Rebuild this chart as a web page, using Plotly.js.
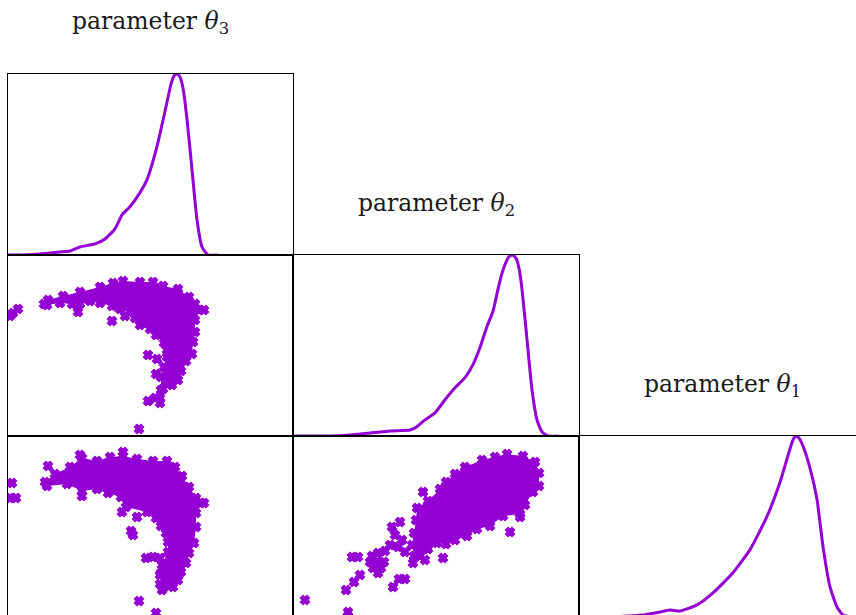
<!DOCTYPE html>
<html>
<head>
<meta charset="utf-8">
<script src="https://cdn.plot.ly/plotly-3.0.1.min.js"></script>
<style>html,body{margin:0;padding:0;background:#fff;}#chart{width:856px;height:615px;}</style>
</head>
<body>
<div id="chart"></div>
<script>
// ---- Data ----
// Marginal density of theta3
const kde3_x = [0, 0.12, 0.32, 0.52, 0.62, 0.72, 0.87, 0.97, 1.07, 1.14, 1.22, 1.32, 1.39, 1.49, 1.59, 1.63, 1.66, 1.69, 1.72, 1.75, 1.79, 1.84, 1.89, 1.94, 2.00, 2.10];
const kde3_y = [0, 0, 0.01, 0.03, 0.04, 0.08, 0.11, 0.16, 0.26, 0.40, 0.48, 0.62, 0.75, 1.08, 1.52, 1.70, 1.78, 1.80, 1.77, 1.66, 1.35, 0.85, 0.35, 0.08, 0, 0];
// Marginal density of theta2
const kde2_x = [0, 0.37, 0.57, 0.77, 0.97, 1.17, 1.22, 1.32, 1.42, 1.52, 1.62, 1.72, 1.80, 1.87, 1.94, 2.00, 2.05, 2.09, 2.13, 2.165, 2.20, 2.235, 2.265, 2.29, 2.34, 2.39, 2.44, 2.49, 2.55, 2.65];
const kde2_y = [0, 0, 0.01, 0.03, 0.05, 0.06, 0.08, 0.16, 0.23, 0.36, 0.48, 0.58, 0.71, 0.88, 1.09, 1.24, 1.46, 1.62, 1.73, 1.79, 1.80, 1.76, 1.64, 1.46, 0.96, 0.46, 0.16, 0.04, 0, 0];
// Marginal density of theta1
const kde1_x = [0.21, 0.41, 0.64, 0.81, 0.91, 1.01, 1.18, 1.34, 1.54, 1.71, 1.88, 2.01, 2.10, 2.135, 2.165, 2.20, 2.24, 2.31, 2.38, 2.44, 2.51, 2.58, 2.64, 2.71];
const kde1_y = [0, 0.005, 0.02, 0.05, 0.07, 0.06, 0.12, 0.24, 0.44, 0.67, 1.00, 1.34, 1.64, 1.75, 1.80, 1.78, 1.70, 1.48, 1.17, 0.70, 0.30, 0.10, 0.02, 0];

// theta3 vs theta2: dense core outline samples and isolated samples
const core32_t3 = [0.36, 0.40, 0.55, 0.72, 0.92, 1.05, 1.15, 1.32, 1.45, 1.55, 1.70, 1.81, 1.87, 1.91, 1.87, 1.87, 1.85, 1.84, 1.78, 1.73, 1.70, 1.64, 1.55, 1.52, 1.47, 1.53, 1.53, 1.56, 1.59, 1.59, 1.56, 1.48, 1.42, 1.32, 1.27, 1.22, 1.12, 1.04, 0.92, 0.82, 0.72, 0.64, 0.52, 0.39];
const core32_t2 = [1.32, 1.36, 1.40, 1.44, 1.49, 1.53, 1.55, 1.54, 1.54, 1.50, 1.47, 1.39, 1.32, 1.26, 1.16, 1.04, 0.94, 0.82, 0.75, 0.65, 0.56, 0.51, 0.47, 0.38, 0.38, 0.46, 0.59, 0.69, 0.79, 0.86, 0.93, 1.01, 1.07, 1.11, 1.18, 1.24, 1.27, 1.30, 1.33, 1.35, 1.32, 1.32, 1.33, 1.31];
const out32_t3 = [0.02, 0.05, 0.10, 0.70, 1.04, 1.17, 1.40, 1.49, 1.48, 1.40, 1.52, 1.31, 1.96];
const out32_t2 = [1.20, 1.23, 1.27, 1.24, 1.15, 1.20, 0.81, 0.77, 0.62, 0.35, 0.33, 0.07, 1.26];

// theta3 vs theta1
const core31_t3 = [0.37, 0.47, 0.62, 0.74, 0.89, 1.02, 1.15, 1.29, 1.45, 1.59, 1.67, 1.74, 1.81, 1.88, 1.93, 1.88, 1.88, 1.86, 1.81, 1.78, 1.73, 1.70, 1.62, 1.55, 1.52, 1.53, 1.54, 1.60, 1.60, 1.58, 1.53, 1.48, 1.39, 1.18, 1.13, 1.00, 0.89, 0.74, 0.59, 0.39];
const core31_t1 = [1.35, 1.43, 1.50, 1.59, 1.56, 1.60, 1.61, 1.58, 1.56, 1.56, 1.50, 1.41, 1.30, 1.19, 1.14, 1.04, 0.90, 0.74, 0.64, 0.54, 0.45, 0.37, 0.33, 0.29, 0.33, 0.44, 0.52, 0.65, 0.75, 0.84, 0.91, 0.99, 1.05, 1.10, 1.20, 1.24, 1.28, 1.26, 1.33, 1.31];
const out31_t3 = [0.04, 0.02, 0.08, 0.40, 0.74, 1.29, 1.23, 1.25, 1.14, 1.38, 1.45, 1.52, 1.52, 1.54, 1.65, 1.31, 1.48, 1.96, 0.72, 1.15];
const out31_t1 = [1.34, 1.19, 1.19, 1.51, 1.21, 1.00, 0.86, 0.82, 1.05, 0.59, 0.60, 0.59, 0.42, 0.27, 0.30, 0.16, 0.04, 1.14, 1.62, 1.65];

// theta2 vs theta1
const core21_t2 = [1.89, 2.02, 2.14, 2.30, 2.42, 2.46, 2.46, 2.40, 2.32, 2.27, 2.10, 1.97, 1.84, 1.74, 1.62, 1.53, 1.44, 1.35, 1.27, 1.21, 1.19, 1.21, 1.23, 1.24, 1.35, 1.47, 1.53, 1.62, 1.72];
const core21_t1 = [1.57, 1.60, 1.63, 1.61, 1.55, 1.44, 1.31, 1.25, 1.12, 1.03, 1.01, 0.91, 0.88, 0.81, 0.77, 0.73, 0.74, 0.68, 0.61, 0.61, 0.72, 0.84, 0.97, 1.09, 1.16, 1.28, 1.35, 1.43, 1.50];
const out21_t2 = [1.07, 0.99, 1.02, 1.09, 0.97, 1.05, 1.12, 0.92, 0.85, 0.79, 0.59, 0.65, 0.77, 0.84, 0.91, 0.80, 0.88, 0.85, 1.06, 1.12, 1.00, 0.67, 0.61, 0.53, 0.12, 0.55, 1.50, 2.17, 2.27, 1.30, 1.20, 1.32];
const out21_t1 = [0.95, 0.90, 0.82, 0.77, 0.72, 0.70, 0.65, 0.66, 0.64, 0.61, 0.60, 0.60, 0.55, 0.55, 0.55, 0.49, 0.49, 0.44, 0.38, 0.38, 0.30, 0.42, 0.35, 0.27, 0.17, 0.05, 0.59, 0.85, 1.00, 1.25, 0.54, 0.57];

const titles = ['parameter <i>θ</i><sub>3</sub>', 'parameter <i>θ</i><sub>2</sub>', 'parameter <i>θ</i><sub>1</sub>'];

// ---- Styling ----
const C = '#9400D3';
const mk = {symbol: 'x', size: 7, color: C, line: {width: 2.2, color: C}};
const curve = {color: C, width: 3, shape: 'spline', smoothing: 0.5};

function cloud(x, y, xa, ya) {
  return {x: x, y: y, xaxis: xa, yaxis: ya, type: 'scatter', mode: 'markers', fill: 'toself', fillcolor: C, marker: mk, hoverinfo: 'skip'};
}
function pts(x, y, xa, ya) {
  return {x: x, y: y, xaxis: xa, yaxis: ya, type: 'scatter', mode: 'markers', marker: mk, hoverinfo: 'skip'};
}
function line(x, y, xa, ya) {
  return {x: x, y: y, xaxis: xa, yaxis: ya, type: 'scatter', mode: 'lines', line: curve, hoverinfo: 'skip'};
}

const data = [
  line(kde3_x, kde3_y, 'x', 'y'),
  cloud(core32_t3, core32_t2, 'x2', 'y2'), pts(out32_t3, out32_t2, 'x2', 'y2'),
  line(kde2_x, kde2_y, 'x3', 'y3'),
  cloud(core31_t3, core31_t1, 'x4', 'y4'), pts(out31_t3, out31_t1, 'x4', 'y4'),
  cloud(core21_t2, core21_t1, 'x5', 'y5'), pts(out21_t2, out21_t1, 'x5', 'y5'),
  line(kde1_x, kde1_y, 'x6', 'y6')
];

const W = 856, H = 615;
const colDom = [[8 / W, 293 / W], [293 / W, 579 / W], [579 / W, 1]];
const rowDom = [[1 - 255 / H, 1 - 74 / H], [1 - 436 / H, 1 - 255 / H], [0, 1 - 436 / H]];
const xr = [[0, 2.85], [0, 2.86], [0, 2.77]];
const yrDiag = [[0, 1.80], [0, 1.80], [0.02, 1.80]];
const yrOff = [null, [0, 1.81], [0.02, 1.81]];

function ax(domain, range, extra) {
  return Object.assign({domain: domain, range: range, showticklabels: false, ticks: '', showgrid: false, zeroline: false,
    showline: true, linecolor: '#000', linewidth: 1.2, mirror: true, fixedrange: true}, extra || {});
}

const layout = {
  width: W, height: H, margin: {l: 0, r: 0, t: 0, b: 0}, showlegend: false,
  paper_bgcolor: '#fff', plot_bgcolor: 'rgba(0,0,0,0)',
  xaxis: ax(colDom[0], xr[0], {anchor: 'y'}),
  yaxis: ax(rowDom[0], yrDiag[0], {anchor: 'x'}),
  xaxis2: ax(colDom[0], xr[0], {anchor: 'y2'}),
  yaxis2: ax(rowDom[1], yrOff[1], {anchor: 'x2'}),
  xaxis3: ax(colDom[1], xr[1], {anchor: 'y3'}),
  yaxis3: ax(rowDom[1], yrDiag[1], {anchor: 'x3'}),
  xaxis4: ax(colDom[0], xr[0], {anchor: 'y4', side: 'top', mirror: false}),
  yaxis4: ax(rowDom[2], yrOff[2], {anchor: 'x4'}),
  xaxis5: ax(colDom[1], xr[1], {anchor: 'y5', side: 'top', mirror: false}),
  yaxis5: ax(rowDom[2], yrOff[2], {anchor: 'x5'}),
  xaxis6: ax(colDom[2], xr[2], {anchor: 'y6', side: 'top', mirror: false}),
  yaxis6: ax(rowDom[2], yrDiag[2], {anchor: 'x6', mirror: false}),
  annotations: titles.map(function (t, i) {
    const cx = [150.5, 436, 722][i], cy = [23, 204, 385][i];
    return {text: t, xref: 'paper', yref: 'paper', x: cx / W, y: 1 - cy / H, xanchor: 'center', yanchor: 'middle',
      showarrow: false, font: {family: 'DejaVu Serif', size: 23.5, color: '#1a1a1a'}};
  })
};

Plotly.newPlot('chart', data, layout, {displayModeBar: false, staticPlot: true});
</script>
</body>
</html>
